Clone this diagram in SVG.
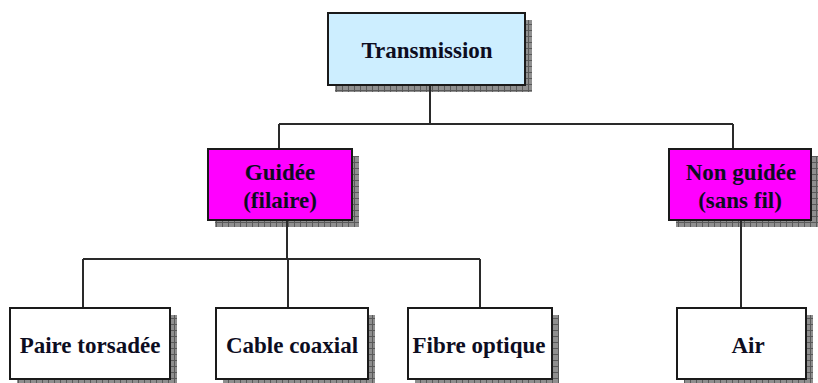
<svg xmlns="http://www.w3.org/2000/svg" width="818" height="383" viewBox="0 0 818 383">
  <defs>
    <!-- hatched grey drop shadow -->
    <pattern id="grid" width="6" height="6" patternUnits="userSpaceOnUse">
      <rect width="6" height="6" fill="#8f8f8f"/>
      <path d="M0 0.5H6M0.5 0V6" stroke="#5a5a5a" stroke-width="1"/>
    </pattern>
  </defs>
  <style>
    .shadow { fill: url(#grid); }
    .box { stroke: #1a1a1a; stroke-width: 2; }
    .root { fill: #cdeeff; }
    .mid { fill: #ff00ff; }
    .leaf { fill: #ffffff; }
    text { font-weight: 700; font-size: 23px; fill: #0d0d1f; text-anchor: middle; }
    .wire { stroke: #2a2a2a; stroke-width: 2; fill: none; }
  </style>

  <!-- shadows -->
  <g id="shadows">
    <rect class="shadow" x="335" y="20" width="197" height="72"/>
    <rect class="shadow" x="215" y="156" width="144" height="71"/>
    <rect class="shadow" x="676" y="156" width="142" height="71"/>
    <rect class="shadow" x="17" y="315" width="160" height="71"/>
    <rect class="shadow" x="223" y="315" width="152" height="71"/>
    <rect class="shadow" x="415" y="315" width="144" height="71"/>
    <rect class="shadow" x="684" y="315" width="129" height="71"/>
  </g>

  <!-- connectors -->
  <g id="connectors">
    <path class="wire" d="M430 85V124M279 124H733M279 124V149M733 124V149"/>
    <path class="wire" d="M287 220V259M83 259H480M83 259V308M288 259V308M480 259V308"/>
    <path class="wire" d="M741 220V308"/>
  </g>

  <g font-family="Times New Roman, Liberation Serif, Tinos, DejaVu Serif, serif">
  <g id="transmission">
    <rect class="box root" x="328" y="13" width="197" height="72"/>
    <text x="427" y="58">Transmission</text>
  </g>

  <g id="guidee">
    <rect class="box mid" x="208" y="149" width="144" height="71"/>
    <text x="280" y="180">Guidée</text>
    <text x="280" y="208">(filaire)</text>
  </g>

  <g id="non-guidee">
    <rect class="box mid" x="669" y="149" width="142" height="71"/>
    <text x="741" y="180">Non guidée</text>
    <text x="740" y="208">(sans fil)</text>
  </g>

  <g id="paire-torsadee">
    <rect class="box leaf" x="10" y="308" width="160" height="71"/>
    <text x="90" y="353">Paire torsadée</text>
  </g>

  <g id="cable-coaxial">
    <rect class="box leaf" x="216" y="308" width="152" height="71"/>
    <text x="292" y="353">Cable coaxial</text>
  </g>

  <g id="fibre-optique">
    <rect class="box leaf" x="408" y="308" width="144" height="71"/>
    <text x="479" y="353">Fibre optique</text>
  </g>

  <g id="air">
    <rect class="box leaf" x="677" y="308" width="129" height="71"/>
    <text x="748" y="353">Air</text>
  </g>
  </g>
</svg>
